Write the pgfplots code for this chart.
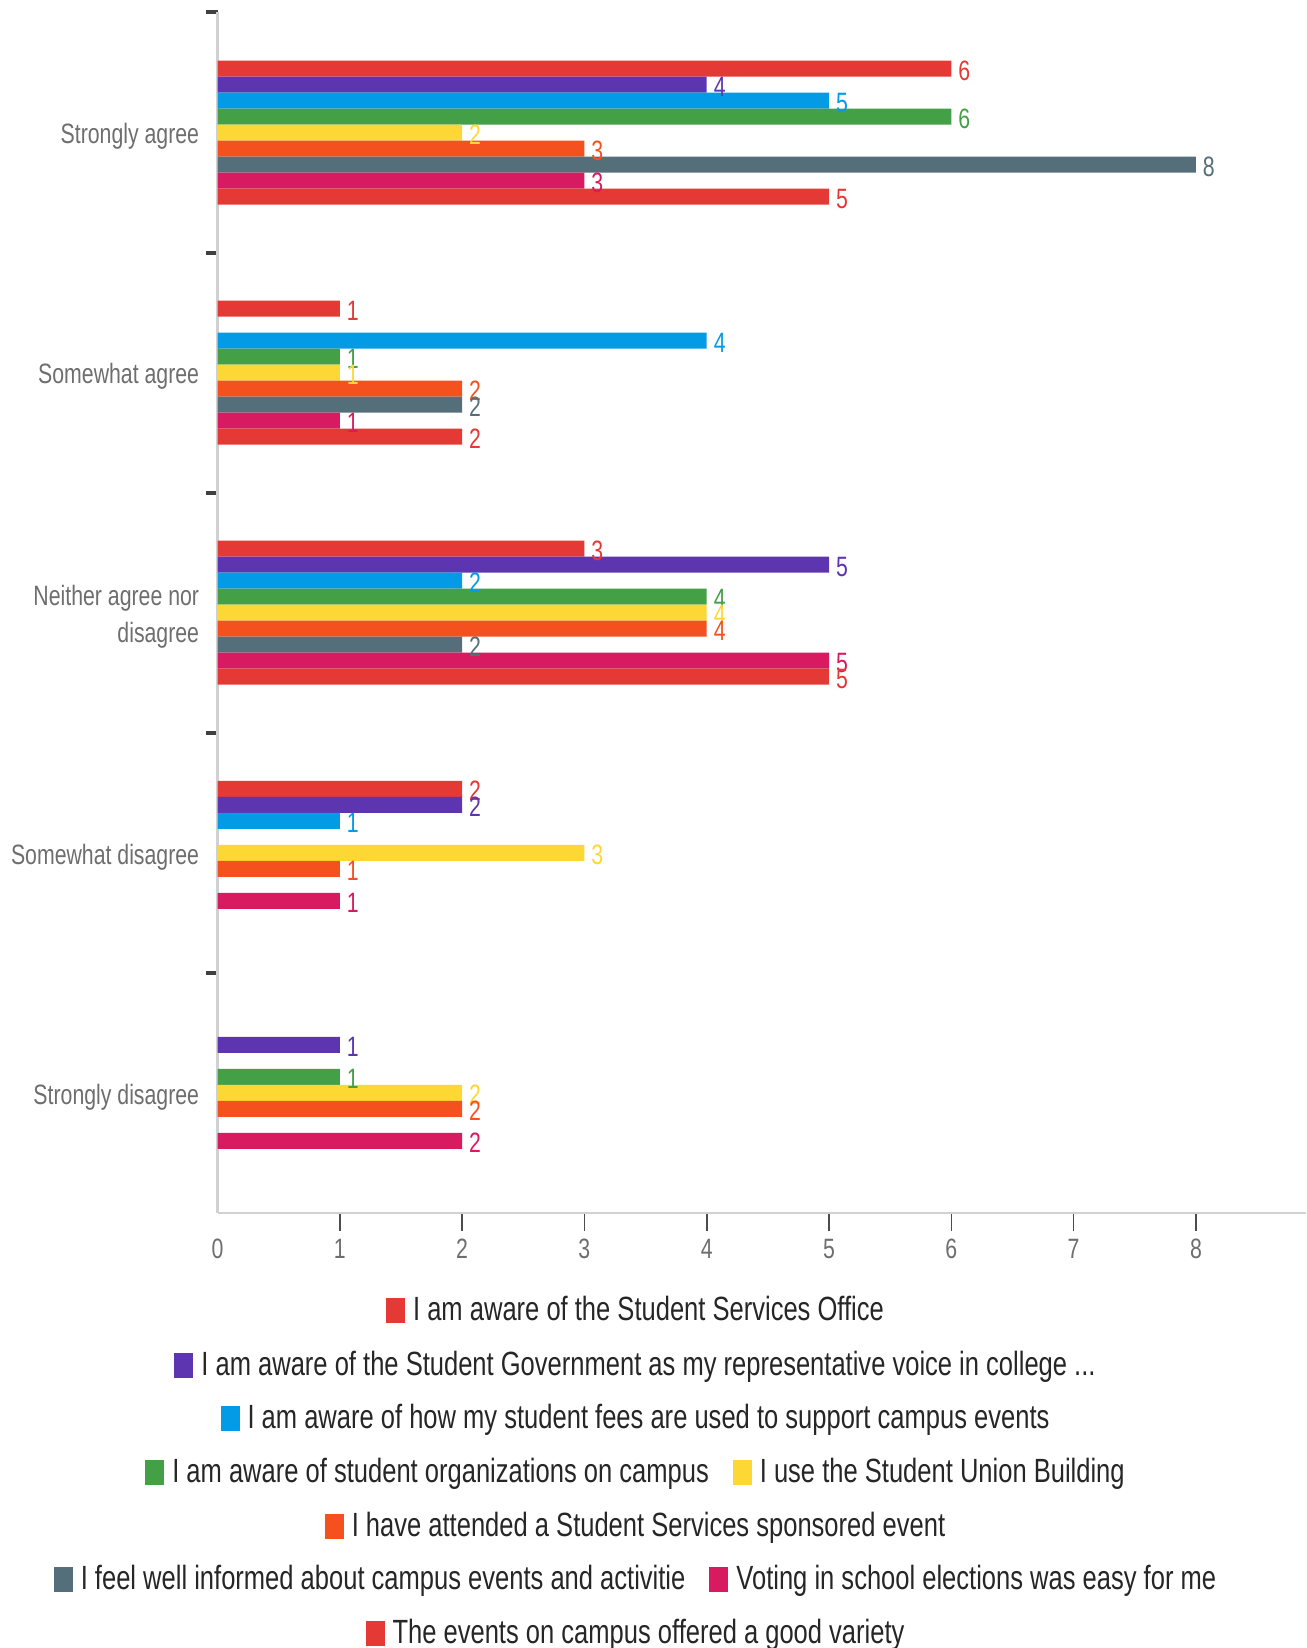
\documentclass[border=0pt]{standalone}
\usepackage{fontspec}
\setmainfont{Liberation Sans}[FakeStretch=0.76]
\usepackage{pgfplots}
\pgfplotsset{compat=1.18}
\definecolor{c1}{HTML}{E53935}
\definecolor{c2}{HTML}{5E35B1}
\definecolor{c3}{HTML}{039BE5}
\definecolor{c4}{HTML}{43A047}
\definecolor{c5}{HTML}{FDD835}
\definecolor{c6}{HTML}{F4511E}
\definecolor{c7}{HTML}{546E7A}
\definecolor{c8}{HTML}{D81B60}
\definecolor{c9}{HTML}{E53935}
\definecolor{labgray}{HTML}{6E6E6E}
\definecolor{legtext}{HTML}{262626}
\newcommand{\leg}[2]{{\color{#1}\rule[-1pt]{9.5pt}{12.5pt}}\hspace{4pt}#2}
\begin{document}
\begin{tikzpicture}
\path[use as bounding box] (0,0) rectangle (653pt,824pt);
\begin{axis}[
  at={(108.75pt,217.5pt)}, anchor=south west,
  scale only axis, width=544.25pt, height=600.25pt,
  xmin=0, xmax=8.9, ymin=-0.5, ymax=4.5,
  axis x line*=bottom, axis y line*=left,
  axis line style={draw=black!18, line width=1.3pt},
  xbar, bar width=8pt,
  xtick={1,...,8},
  extra x ticks={0},
  extra x tick style={major x tick style={draw=none}},
  ytick={0,...,4},
  yticklabels={Strongly disagree, Somewhat disagree, {Neither agree nor\\disagree}, Somewhat agree, Strongly agree},
  minor ytick={0.5,1.5,2.5,3.5,4.5},
  tick align=outside, major tick length=9pt, minor tick length=6pt,
  major y tick style={draw=none},
  minor y tick style={draw=black!75, line width=2pt},
  major x tick style={draw=black!70, line width=0.8pt},
  /pgf/number format/assume math mode=true,
  ticklabel style={font=\fontsize{14}{18.5}\selectfont, text=labgray},
  xticklabel style={yshift=-0.5pt},
  yticklabel style={align=right, inner sep=0pt, yshift=-2pt},
  nodes near coords,
  point meta=x,
  nodes near coords style={font=\fontsize{14}{14}\selectfont, anchor=west, yshift=-1pt, /pgf/number format/precision=0},
]
\addplot[fill=c1, draw=none, bar shift=32pt, every node near coord/.append style={text=c1}] coordinates {(6,4) (1,3) (3,2) (2,1)};
\addplot[fill=c2, draw=none, bar shift=24pt, every node near coord/.append style={text=c2}] coordinates {(4,4) (5,2) (2,1) (1,0)};
\addplot[fill=c3, draw=none, bar shift=16pt, every node near coord/.append style={text=c3}] coordinates {(5,4) (4,3) (2,2) (1,1)};
\addplot[fill=c4, draw=none, bar shift=8pt, every node near coord/.append style={text=c4}] coordinates {(6,4) (1,3) (4,2) (1,0)};
\addplot[fill=c5, draw=none, bar shift=0pt, every node near coord/.append style={text=c5}] coordinates {(2,4) (1,3) (4,2) (3,1) (2,0)};
\addplot[fill=c6, draw=none, bar shift=-8pt, every node near coord/.append style={text=c6}] coordinates {(3,4) (2,3) (4,2) (1,1) (2,0)};
\addplot[fill=c7, draw=none, bar shift=-16pt, every node near coord/.append style={text=c7}] coordinates {(8,4) (2,3) (2,2)};
\addplot[fill=c8, draw=none, bar shift=-24pt, every node near coord/.append style={text=c8}] coordinates {(3,4) (1,3) (5,2) (1,1) (2,0)};
\addplot[fill=c9, draw=none, bar shift=-32pt, every node near coord/.append style={text=c9}] coordinates {(5,4) (2,3) (5,2)};
\end{axis}
\begin{scope}[every node/.style={anchor=base, inner sep=0pt, text=legtext, font=\fontsize{16.8}{18}\selectfont}]
\node at (317.5pt,163.5pt) {\leg{c1}{I am aware of the Student Services Office}};
\node at (317.5pt,136pt) {\leg{c2}{I am aware of the Student Government as my representative voice in college ...}};
\node at (317.5pt,109.5pt) {\leg{c3}{I am aware of how my student fees are used to support campus events}};
\node at (317.5pt,82.5pt) {\leg{c4}{I am aware of student organizations on campus}\hspace{12pt}\leg{c5}{I use the Student Union Building}};
\node at (317.5pt,55.5pt) {\leg{c6}{I have attended a Student Services sponsored event}};
\node at (317.5pt,29pt) {\leg{c7}{I feel well informed about campus events and activitie}\hspace{12pt}\leg{c8}{Voting in school elections was easy for me}};
\node at (317.5pt,2pt) {\leg{c9}{The events on campus offered a good variety}};
\end{scope}
\end{tikzpicture}
\end{document}
